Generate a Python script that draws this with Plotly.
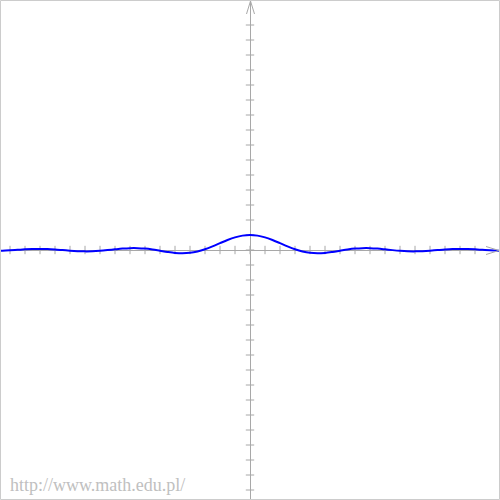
import plotly.graph_objects as go

# Curve samples (y = sin(x)/x shape, 1 unit = 15 px)
x_pos = [0, 0.5, 1, 1.5, 2, 2.5, 3, 3.5, 4, 4.5, 5, 5.5, 6, 6.5, 7, 7.5, 8, 8.5,
         9, 9.5, 10, 10.5, 11, 11.5, 12, 12.5, 13, 13.5, 14, 14.5, 15, 15.5, 16, 16.5, 17]
y_pos = [1.0, 0.959, 0.841, 0.665, 0.455, 0.239, 0.047, -0.100, -0.189, -0.217,
         -0.192, -0.128, -0.047, 0.033, 0.094, 0.125, 0.124, 0.094, 0.046, -0.008,
         -0.054, -0.084, -0.091, -0.076, -0.045, -0.005, 0.032, 0.060, 0.071, 0.064,
         0.043, 0.012, -0.018, -0.043, -0.057]

x_vals = [-v for v in reversed(x_pos[1:])] + x_pos
y_vals = list(reversed(y_pos[1:])) + y_pos

tick_vals = list(range(-16, 16))
axis_limit = 250 / 15

W = H = 500
axis_col = "#a8a8a8"

fig = go.Figure()

# tick marks on the x axis
fig.add_trace(go.Scatter(
    x=tick_vals, y=[0] * len(tick_vals), mode="markers",
    marker=dict(symbol="line-ns", size=6, line=dict(width=1, color=axis_col)),
    hoverinfo="skip", showlegend=False))
# tick marks on the y axis
fig.add_trace(go.Scatter(
    x=[0] * len(tick_vals), y=tick_vals, mode="markers",
    marker=dict(symbol="line-ew", size=6, line=dict(width=1, color=axis_col)),
    hoverinfo="skip", showlegend=False))

fig.add_trace(go.Scatter(
    x=x_vals, y=y_vals, mode="lines",
    line=dict(color="#0000ff", width=2, shape="spline"),
    hoverinfo="skip", showlegend=False))

def px(v):
    return v / W

def py(v):
    return 1 - v / H

shapes = [
    # frame
    dict(type="rect", xref="paper", yref="paper", x0=px(0.5), x1=px(499.5),
         y0=py(499.5), y1=py(0.5), line=dict(color="#cccccc", width=1)),
    # top arrow head
    dict(type="path", xref="paper", yref="paper",
         path=f"M {px(246.5)} {py(14)} L {px(250.5)} {py(1)} L {px(254.5)} {py(14)}",
         line=dict(color=axis_col, width=1)),
    # right arrow head
    dict(type="path", xref="paper", yref="paper",
         path=f"M {px(486)} {py(246.5)} L {px(499)} {py(250.5)} L {px(486)} {py(254.5)}",
         line=dict(color=axis_col, width=1)),
]

fig.update_layout(
    width=W, height=H,
    margin=dict(l=0, r=0, t=0, b=0),
    paper_bgcolor="white", plot_bgcolor="white",
    xaxis=dict(range=[-axis_limit, axis_limit], showgrid=False, showticklabels=False,
               zeroline=True, zerolinecolor=axis_col, zerolinewidth=1, fixedrange=True),
    yaxis=dict(range=[-axis_limit, axis_limit], showgrid=False, showticklabels=False,
               zeroline=True, zerolinecolor=axis_col, zerolinewidth=1, fixedrange=True),
    shapes=shapes,
    annotations=[dict(text="http://www.math.edu.pl/", xref="paper", yref="paper",
                      x=px(8), y=py(497), xanchor="left", yanchor="bottom",
                      showarrow=False,
                      font=dict(family="Liberation Serif", size=18, color="#c0c0c0"))],
)

fig.write_html("out.html", config={"displayModeBar": False},
               post_script="document.body.style.margin='0';document.body.style.padding='0';")
